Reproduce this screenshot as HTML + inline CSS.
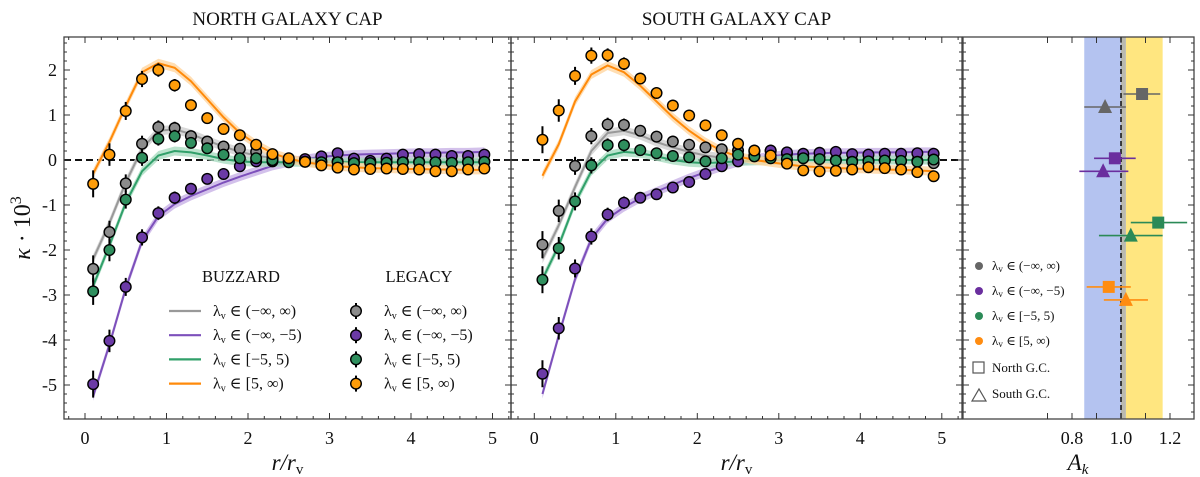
<!DOCTYPE html>
<html><head><meta charset="utf-8">
<style>
html,body{margin:0;padding:0;background:#fff;}
svg{display:block;font-family:"Liberation Serif","DejaVu Serif",serif;}
</style></head>
<body>
<svg id="chart" width="1200" height="477" viewBox="0 0 1200 477" xmlns="http://www.w3.org/2000/svg"></svg>
<script>
const rVals=[0.1,0.3,0.5,0.7,0.9,1.1,1.3,1.5,1.7,1.9,2.1,2.3,2.5,2.7,2.9,3.1,3.3,3.5,3.7,3.9,4.1,4.3,4.5,4.7,4.9];
// North data
const nOrange=[-0.53,0.12,1.09,1.8,2.0,1.66,1.22,0.93,0.69,0.55,0.34,0.13,0.04,-0.04,-0.12,-0.17,-0.21,-0.2,-0.19,-0.2,-0.21,-0.25,-0.25,-0.21,-0.19];
const nGray=[-2.42,-1.6,-0.52,0.36,0.73,0.71,0.53,0.41,0.3,0.25,0.18,0.05,0.02,0.0,-0.02,-0.03,-0.05,-0.05,-0.04,-0.03,-0.04,-0.05,-0.05,-0.04,-0.03];
const nGreen=[-2.92,-2.0,-0.88,0.05,0.47,0.53,0.38,0.26,0.12,0.04,0.04,0.0,-0.05,-0.04,-0.05,-0.05,-0.07,-0.07,-0.06,-0.05,-0.05,-0.05,-0.06,-0.05,-0.04];
const nPurple=[-4.98,-4.02,-2.82,-1.72,-1.18,-0.84,-0.64,-0.42,-0.31,-0.14,-0.03,-0.03,-0.02,0.02,0.08,0.15,0.03,-0.02,0.03,0.12,0.13,0.12,0.09,0.09,0.12];
// North models
const nOrangeM=[-0.3,0.4,1.2,1.95,2.15,2.05,1.75,1.35,0.95,0.6,0.35,0.15,0.03,-0.05,-0.1,-0.14,-0.16,-0.18,-0.19,-0.2,-0.2,-0.21,-0.21,-0.22,-0.22];
const nGrayM=[-2.2,-1.4,-0.5,0.25,0.65,0.68,0.58,0.43,0.3,0.18,0.1,0.04,0.0,-0.02,-0.02,-0.02,-0.02,-0.02,-0.02,-0.02,-0.02,-0.02,-0.02,-0.02,-0.02];
const nGreenM=[-2.8,-1.9,-0.95,-0.25,0.1,0.2,0.17,0.1,0.02,-0.03,-0.05,-0.05,-0.05,-0.05,-0.05,-0.05,-0.05,-0.05,-0.05,-0.05,-0.05,-0.05,-0.05,-0.05,-0.05];
const nPurpleM=[-5.25,-4.1,-2.85,-1.8,-1.25,-0.98,-0.8,-0.65,-0.5,-0.37,-0.25,-0.13,-0.05,0.02,0.07,0.1,0.12,0.13,0.14,0.15,0.16,0.16,0.17,0.17,0.18];
// South data
const sOrange=[0.45,1.1,1.87,2.32,2.33,2.14,1.81,1.49,1.21,0.99,0.77,0.55,0.36,0.21,0.1,-0.08,-0.23,-0.25,-0.24,-0.21,-0.16,-0.18,-0.21,-0.27,-0.36];
const sGray=[-1.88,-1.13,-0.13,0.53,0.79,0.78,0.65,0.52,0.41,0.34,0.28,0.24,0.21,0.19,0.2,0.14,0.08,0.05,0.0,-0.02,-0.01,-0.01,-0.02,-0.02,-0.07];
const sGreen=[-2.66,-1.96,-0.92,-0.12,0.33,0.33,0.22,0.15,0.09,0.06,-0.03,0.04,0.12,0.08,0.04,0.02,0.04,0.02,-0.01,-0.04,-0.03,-0.01,-0.02,-0.04,0.01];
const sPurple=[-4.75,-3.74,-2.41,-1.7,-1.21,-0.95,-0.84,-0.76,-0.61,-0.49,-0.31,-0.14,-0.03,0.1,0.21,0.17,0.14,0.16,0.18,0.13,0.12,0.14,0.14,0.15,0.14];
// South models
const sOrangeM=[-0.35,0.35,1.3,1.9,2.1,1.95,1.65,1.3,0.95,0.65,0.4,0.2,0.08,0.0,-0.05,-0.1,-0.14,-0.16,-0.18,-0.19,-0.2,-0.21,-0.22,-0.23,-0.25];
const sGrayM=[-2.2,-1.45,-0.6,0.2,0.6,0.65,0.55,0.4,0.28,0.18,0.1,0.05,0.02,0.0,0.0,0.0,0.0,0.0,0.0,0.0,0.0,0.0,0.0,0.0,0.0];
const sGreenM=[-2.65,-1.9,-0.95,-0.25,0.1,0.18,0.15,0.08,0.0,-0.05,-0.07,-0.05,-0.03,-0.02,-0.01,0.0,0.0,0.0,0.0,0.0,0.0,0.0,0.0,0.0,0.0];
const sPurpleM=[-5.2,-3.9,-2.65,-1.75,-1.3,-1.05,-0.85,-0.7,-0.55,-0.4,-0.27,-0.15,-0.05,0.03,0.08,0.12,0.14,0.15,0.16,0.16,0.17,0.17,0.17,0.18,0.18];
const errVals=[0.3,0.25,0.2,0.18,0.15,0.14,0.12,0.1,0.08,0.07,0.06,0.05,0.05,0.05,0.05,0.05,0.05,0.05,0.05,0.05,0.05,0.05,0.05,0.05,0.05];
const xTicks=[0,1,2,3,4,5];
const yTicks=[-5,-4,-3,-2,-1,0,1,2];
// Amplitudes
const ampNorth=[1.086,0.975,1.152,0.95];
const ampNorthLo=[1.01,0.89,1.04,0.86];
const ampNorthHi=[1.16,1.06,1.27,1.04];
const ampSouth=[0.935,0.927,1.04,1.02];
const ampSouthLo=[0.85,0.83,0.91,0.93];
const ampSouthHi=[1.02,1.03,1.17,1.11];
const aTicks=[0.8,1.0,1.2];

const NS='http://www.w3.org/2000/svg';
const svg=document.getElementById('chart');
function mk(tag,attrs,parent){const e=document.createElementNS(NS,tag);for(const k in attrs)e.setAttribute(k,attrs[k]);(parent||svg).appendChild(e);return e;}
const COL={gray:'#8c8c8c',purple:'#6b3aa6',green:'#2f8f5e',orange:'#ff9d0a'};
const LCOL={gray:'#999999',purple:'#7d50bb',green:'#31a06a',orange:'#ff8a0a'};
const BCOL={gray:'#cfcfcf',purple:'#c8b2e6',green:'#a9dcc0',orange:'#ffd6a0'};
const YT=37,YB=419;
function yScale(v){return 160-v*45.0;}

function panel(name,x0,fL,fR,title,data,models){
  const xs=v=>x0+v*81.5;
  const g=mk('g',{});
  
  
  const t=mk('text',{x:(fL+fR)/2,y:25,'text-anchor':'middle','font-size':19,fill:'#111'},g);
  t.textContent=title;
  
  
  const z=mk('line',{x1:fL,x2:fR,y1:yScale(0),y2:yScale(0),stroke:'#111','stroke-width':2,'stroke-dasharray':'7,4'},g);
  
  
  ['gray','purple','green','orange'].forEach((c,i)=>{
    const m=models[i];
    const up=rVals.map((r,j)=>xs(r)+','+yScale(m[j]+0.1)).join(' ');
    const dn=rVals.map((r,j)=>xs(r)+','+yScale(m[j]-0.1)).reverse().join(' ');
    const b=mk('polygon',{points:up+' '+dn,fill:BCOL[c],opacity:0.8},g);
    
    
    const l=mk('polyline',{points:rVals.map((r,j)=>xs(r)+','+yScale(m[j])).join(' '),fill:'none',stroke:LCOL[c],'stroke-width':2},g);
    
    
  });
  ['gray','purple','green','orange'].forEach((c,i)=>{
    const d=data[i];
    rVals.forEach((r,j)=>{
      const e=mk('line',{x1:xs(r),x2:xs(r),y1:yScale(d[j]+errVals[j]),y2:yScale(d[j]-errVals[j]),stroke:'#000','stroke-width':2},g);
      
      
      const p=mk('circle',{cx:xs(r),cy:yScale(d[j]),r:5.3,fill:COL[c],stroke:'#000','stroke-width':1.4},g);
      
      
    });
  });
  frame(g,fL,fR,xs,true);
  xTicks.forEach(v=>{
    const tl=mk('text',{x:xs(v),y:444,'text-anchor':'middle','font-size':18,fill:'#111'},g);
    tl.textContent=v;
    
    
  });
  const xl=mk('text',{x:(fL+fR)/2,y:470,'text-anchor':'middle','font-size':23,'font-style':'italic',fill:'#111'},g);
  xl.innerHTML='r/r<tspan font-size="15" font-style="normal" dy="4">v</tspan>';
  
  
}
function frame(g,fL,fR,xs,withX){
  const r=mk('rect',{x:fL,y:YT,width:fR-fL,height:YB-YT,fill:'none',stroke:'#444','stroke-width':1.3},g);
  
  
  let d='';
  for(let k=-5.6;k<=2.61;k+=0.2){const v=Math.round(k*10)/10;const y=yScale(v);if(y<YT||y>YB)continue;const L=Math.abs(v-Math.round(v))<1e-6?6:3;d+=`M${fL},${y}h${L}M${fR},${y}h${-L}`;}
  if(withX){for(let k=-0.2;k<=5.21;k+=0.2){const v=Math.round(k*10)/10;const x=xs(v);if(x<fL||x>fR)continue;const L=Math.abs(v-Math.round(v))<1e-6?6:3;d+=`M${x},${YB}v${-L}M${x},${YT}v${L}`;}}
  const p=mk('path',{d:d,stroke:'#333','stroke-width':1,fill:'none'},g);
  
  
}
panel('north-panel',85,64,511,'NORTH GALAXY CAP',[nGray,nPurple,nGreen,nOrange],[nGrayM,nPurpleM,nGreenM,nOrangeM]);
panel('south-panel',534.3,511,962,'SOUTH GALAXY CAP',[sGray,sPurple,sGreen,sOrange],[sGrayM,sPurpleM,sGreenM,sOrangeM]);
yTicks.forEach(v=>{
  const t=mk('text',{x:57,y:yScale(v)+6,'text-anchor':'end','font-size':18,fill:'#111'});
  t.textContent=v;
  
  
});
const yl=mk('text',{x:0,y:0,transform:'translate(30,228) rotate(-90)','text-anchor':'middle','font-size':24,fill:'#111'});
yl.innerHTML='<tspan font-style="italic">κ</tspan> · 10<tspan font-size="16" dy="-9">3</tspan>';



const lg=mk('g',{});


const lbls=['(−∞, ∞)','(−∞, −5)','[−5, 5)','[5, ∞)'];
const cs=['gray','purple','green','orange'];
[['BUZZARD',241],['LEGACY',419]].forEach(([s,x])=>{const t=mk('text',{x:x,y:282,'text-anchor':'middle','font-size':16.5,fill:'#111'},lg);t.textContent=s;});
cs.forEach((c,i)=>{
  const y=311+i*24.2;
  const l=mk('line',{x1:169,x2:201,y1:y,y2:y,stroke:LCOL[c],'stroke-width':2.2},lg);
  
  
  const t1=mk('text',{x:213,y:y+5,'font-size':16,fill:'#111'},lg);
  t1.innerHTML='λ<tspan font-size="10" dy="3">v</tspan><tspan dy="-3"> ∈ '+lbls[i]+'</tspan>';
  
  
  const e=mk('line',{x1:356,x2:356,y1:y-8,y2:y+8,stroke:'#000','stroke-width':2},lg);
  
  
  const m=mk('circle',{cx:356,cy:y,r:5.3,fill:COL[c],stroke:'#000','stroke-width':1.4},lg);
  
  
  const t2=mk('text',{x:384,y:y+5,'font-size':16,fill:'#111'},lg);
  t2.innerHTML='λ<tspan font-size="10" dy="3">v</tspan><tspan dy="-3"> ∈ '+lbls[i]+'</tspan>';
  
  
});

const rp=mk('g',{});


const ax=v=>1072+(v-0.8)*245;
const RL=963,RR=1194;
const bb=mk('rect',{x:ax(0.85),y:YT,width:ax(1.0)-ax(0.85),height:YB-YT,fill:'#b4c3f0'},rp);

const yb=mk('rect',{x:ax(1.02),y:YT,width:ax(1.17)-ax(1.02),height:YB-YT,fill:'#ffe680'},rp);

const gb=mk('rect',{x:ax(1.0),y:YT,width:ax(1.02)-ax(1.0),height:YB-YT,fill:'#b9b9b0'},rp);

const dl=mk('line',{x1:ax(1.0),x2:ax(1.0),y1:YT,y2:YB,stroke:'#111','stroke-width':1.5,'stroke-dasharray':'5,3'},rp);

const ACOL={gray:'#666666',purple:'#6a2e9e',green:'#2b8a57',orange:'#ff8c10'};
cs.forEach((c,i)=>{
  const yS=94+i*64.3, yT=yS+13;
  const e1=mk('line',{x1:ax(ampNorthLo[i]),x2:ax(ampNorthHi[i]),y1:yS,y2:yS,stroke:ACOL[c],'stroke-width':1.6},rp);
  
  const s=mk('rect',{x:ax(ampNorth[i])-6,y:yS-6,width:12,height:12,fill:ACOL[c]},rp);
  
  const e2=mk('line',{x1:ax(ampSouthLo[i]),x2:ax(ampSouthHi[i]),y1:yT,y2:yT,stroke:ACOL[c],'stroke-width':1.6},rp);
  
  const x=ax(ampSouth[i]);
  const tr=mk('polygon',{points:`${x-7},${yT+6} ${x+7},${yT+6} ${x},${yT-8}`,fill:ACOL[c]},rp);
  
});
frame(rp,RL,RR,ax,false);
let td='';
for(let v=0.7;v<=1.31;v+=0.1){const x=ax(v);if(x<RL||x>RR)continue;td+=`M${x},${YB}v-6M${x},${YT}v6`;}
const tp=mk('path',{d:td,stroke:'#333','stroke-width':1},rp);

aTicks.forEach(v=>{const t=mk('text',{x:ax(v),y:444,'text-anchor':'middle','font-size':18,fill:'#111'},rp);t.textContent=v.toFixed(1);});
const al=mk('text',{x:1078,y:470,'text-anchor':'middle','font-size':23,'font-style':'italic',fill:'#111'},rp);
al.innerHTML='A<tspan font-size="15" dy="4">k</tspan>';

cs.forEach((c,i)=>{
  const y=266+i*25;
  const d=mk('circle',{cx:979,cy:y,r:4,fill:ACOL[c]},rp);
  
  const t=mk('text',{x:992,y:y+4,'font-size':13,fill:'#111'},rp);
  t.innerHTML='λ<tspan font-size="9" dy="2">v</tspan><tspan dy="-2"> ∈ '+lbls[i]+'</tspan>';
  
});
const sq=mk('rect',{x:973,y:362,width:11,height:11,fill:'none',stroke:'#555','stroke-width':1.2},rp);

const st=mk('text',{x:992,y:372,'font-size':13,fill:'#111'},rp);st.textContent='North G.C.';

const tt=mk('polygon',{points:'972,401 986,401 979,389',fill:'none',stroke:'#555','stroke-width':1.2},rp);

const stt=mk('text',{x:992,y:398,'font-size':13,fill:'#111'},rp);stt.textContent='South G.C.';

</script>
</body></html>
